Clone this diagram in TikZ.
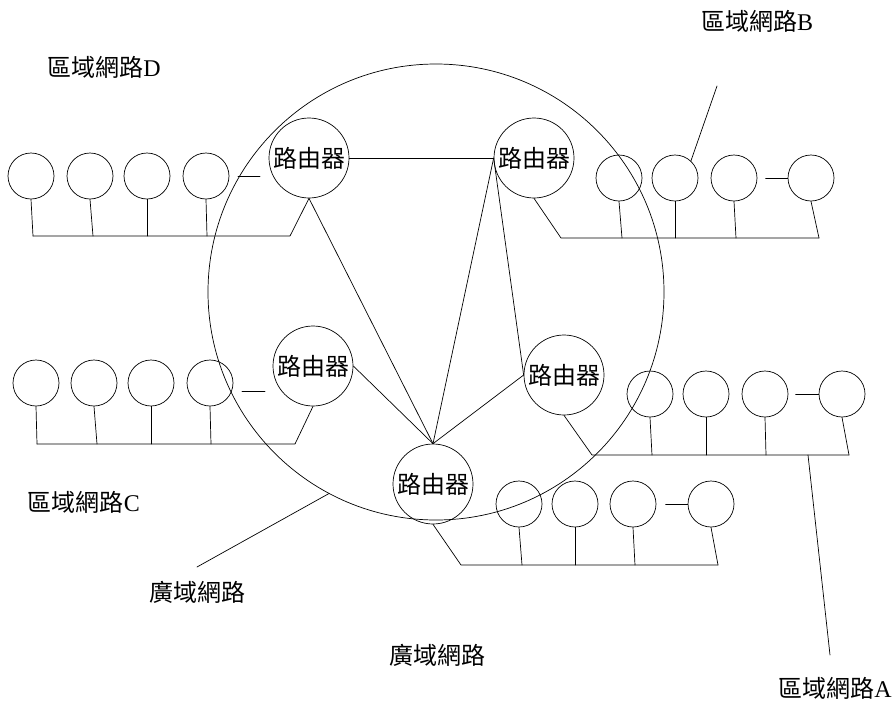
\documentclass[tikz,border=0pt]{standalone}
\usepackage{fontspec}
\setmainfont{Liberation Serif}
\newfontfamily\cjk{Noto Sans CJK TC}
\usetikzlibrary{calc}

\begin{document}
\begin{tikzpicture}[x=1pt,y=-1pt,line cap=round,line join=round,line width=0.7pt]
  % ----- styles -----
  \tikzset{
    host/.style={draw=black,circle,minimum size=46pt,inner sep=0pt},
    router/.style={draw=black,circle,minimum size=80pt,inner sep=0pt,
      font=\cjk\fontsize{24}{24}\selectfont},
    lbl/.style={inner sep=0pt,font=\fontsize{24}{24}\selectfont}
  }
  \useasboundingbox (0,0) rectangle (895,702);

  % ----- wide area network ring -----
  \node[draw=black,circle,minimum size=456pt,inner sep=0pt] (wan) at (436,292) {};

  % ----- routers -----
  \node[router] (RD) at (309,158) {路由器};
  \node[router] (RB) at (534,158) {路由器};
  \node[router] (RC) at (313,366) {路由器};
  \node[router] (RA) at (564,375) {路由器};
  \node[router] (RE) at (433,484) {路由器};

  % router links
  \draw (RD.east) -- (RB.west);
  \draw (RD.south) -- (RE.north);
  \draw (RB.west) -- (RE.north);
  \draw (RB.west) -- (RA.west);
  \draw (RA.west) -- (RE.north);
  \draw (RC.east) -- (RE.north);

  % ----- LAN D -----
  \foreach \x [count=\i] in {31,90,147,206}{
    \node[host] (D\i) at (\x,176) {};
  }
  \foreach \i/\x in {1/33,2/93,3/147,4/207}{
    \coordinate (Dt\i) at (\x,236);
    \draw (D\i.south) -- (Dt\i);
  }
  \coordinate (Dbus) at (290,236);
  \draw (RD.south) -- (Dbus) -- (Dt1);
  \draw (238,176) -- (260,176);

  % ----- LAN B -----
  \foreach \x [count=\i] in {619,675,734,811}{
    \node[host] (B\i) at (\x,178) {};
  }
  \foreach \i/\x in {1/622,2/675,3/736,4/819}{
    \coordinate (Bt\i) at (\x,238);
    \draw (B\i.south) -- (Bt\i);
  }
  \coordinate (Bbus) at (561,238);
  \draw (RB.south) -- (Bbus) -- (Bt4);
  \draw ($(B4.west)+(-22,0)$) -- (B4.west);

  % ----- LAN C -----
  \foreach \x [count=\i] in {36,94,151,210}{
    \node[host] (C\i) at (\x,383) {};
  }
  \foreach \i/\x in {1/37,2/97,3/151,4/211}{
    \coordinate (Ct\i) at (\x,444);
    \draw (C\i.south) -- (Ct\i);
  }
  \coordinate (Cbus) at (295,444);
  \draw (RC.south) -- (Cbus) -- (Ct1);
  \draw (242,391) -- (265,391);

  % ----- LAN A -----
  \foreach \x [count=\i] in {650,706,765,842}{
    \node[host] (A\i) at (\x,394) {};
  }
  \foreach \i/\x in {1/652,2/706,3/766,4/849}{
    \coordinate (At\i) at (\x,455);
    \draw (A\i.south) -- (At\i);
  }
  \coordinate (Abus) at (592,455);
  \draw (RA.south) -- (Abus) -- (At4);
  \draw ($(A4.west)+(-23,0)$) -- (A4.west);

  % ----- LAN under the bottom router -----
  \foreach \x [count=\i] in {519,575,633,711}{
    \node[host] (E\i) at (\x,504) {};
  }
  \foreach \i/\x in {1/522,2/575,3/635,4/718}{
    \coordinate (Et\i) at (\x,565);
    \draw (E\i.south) -- (Et\i);
  }
  \coordinate (Ebus) at (461,565);
  \draw (RE.south) -- (Ebus) -- (Et4);
  \draw ($(E4.west)+(-22,0)$) -- (E4.west);

  % ----- labels & pointers -----
  \node[lbl] (lanD) at (104,67) {{\cjk 區域網路}D};
  \node[lbl] (lanB) at (757,21) {{\cjk 區域網路}B};
  \node[lbl] (lanC) at (84,502) {{\cjk 區域網路}C};
  \node[lbl] (lanA) at (835,688) {{\cjk 區域網路}A};
  \node[lbl] (wanA) at (197,592) {\cjk 廣域網路};
  \node[lbl] (wanB) at (437,655) {\cjk 廣域網路};

  \coordinate (Bptr) at (717,86);
  \draw (B2.47) -- (Bptr);
  \coordinate (Atap) at (808,455);
  \coordinate (Aptr) at (830,655);
  \draw (Atap) -- (Aptr);
  \coordinate (wanptr) at (197,567);
  \draw (wan.242) -- (wanptr);
\end{tikzpicture}
\end{document}
